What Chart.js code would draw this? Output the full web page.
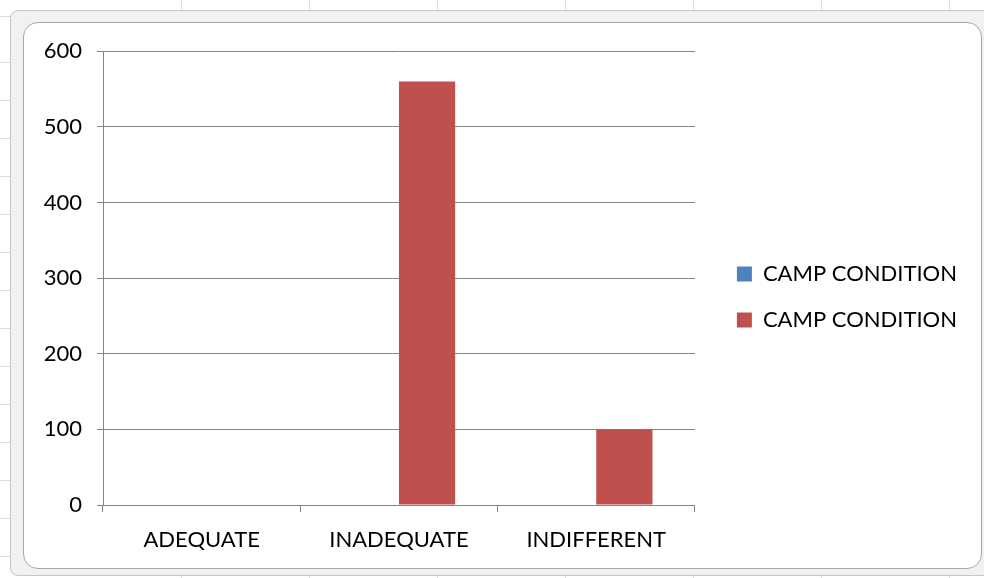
<!DOCTYPE html>
<html>
<head>
<meta charset="utf-8">
<script src="https://cdn.jsdelivr.net/npm/chart.js@4.4.0/dist/chart.umd.min.js"></script>
<style>
  html, body { margin: 0; padding: 0; }
  body {
    width: 984px; height: 578px; position: relative; overflow: hidden;
    background-color: #ffffff;
    background-image:
      repeating-linear-gradient(to right, transparent 0, transparent 127px, #dcdcdc 127px, #dcdcdc 128px),
      repeating-linear-gradient(to bottom, transparent 0, transparent 37px, #dcdcdc 37px, #dcdcdc 38px);
    background-position: 54px 0, 0 25px;
  }
  #frame {
    position: absolute; left: 10px; top: 10px; width: 980px; height: 564px;
    background: #f1f1f1; border: 1px solid #c6c6c6; border-radius: 8px;
  }
  #box {
    position: absolute; left: 23px; top: 22px; width: 957px; height: 545px;
    background: #fff; border: 1px solid #a8a8a8; border-radius: 15px;
  }
  #myChart { position: absolute; left: 24px; top: 23px; }
</style>
</head>
<body>
<div id="frame"></div>
<div id="box"></div>
<canvas id="myChart" width="956" height="544"></canvas>
<script>
// dados do gráfico
var categorias = ['ADEQUATE', 'INADEQUATE', 'INDIFFERENT'];
var serieAzul = [0, 0, 0];
var serieVermelha = [0, 560, 100];
var nomeSerie = 'CAMP CONDITION';

window.onload = () => {
    var fonte = { family: 'Lato', size: 22 };
    var cinza = '#868686';

    var data = {
        labels: categorias,
        datasets: [{
            label: nomeSerie,
            backgroundColor: '#4F81BD',
            data: serieAzul
        }, {
            label: nomeSerie,
            backgroundColor: '#C0504D',
            data: serieVermelha
        }]
    };

    // sobe a legenda um pouco (fica centrada acima do eixo x)
    var subirLegenda = {
        id: 'subirLegenda',
        afterLayout: (chart) => {
            chart.legend.top -= 10;
            chart.legend.bottom -= 10;
        }
    };

    var options = {
        responsive: false,
        animation: false,
        layout: { padding: { left: 0, top: 24, right: 13, bottom: 0 } },
        datasets: { bar: { categoryPercentage: 0.57, barPercentage: 1 } },
        plugins: {
            tooltip: { enabled: false },
            legend: {
                position: 'right',
                maxWidth: 320,
                labels: {
                    color: '#000',
                    font: fonte,
                    boxWidth: 15,
                    boxHeight: 15,
                    padding: 24
                }
            }
        },
        scales: {
            x: {
                grid: { drawOnChartArea: false, color: cinza, tickLength: 7 },
                border: { color: cinza },
                ticks: { color: '#000', font: fonte, padding: 15 },
                afterFit: (s) => { s.height = 62; }
            },
            y: {
                min: 0,
                max: 600,
                ticks: { stepSize: 100, color: '#000', font: fonte, padding: 15 },
                grid: { color: cinza, tickLength: 6 },
                border: { color: cinza },
                afterFit: (s) => { s.width = 79; }
            },
            espaco: {
                position: 'right',
                display: true,
                grid: { display: false },
                border: { display: false },
                ticks: { display: false },
                afterFit: (s) => { s.width = 18; }
            }
        }
    };

    var ctx = document.getElementById('myChart').getContext('2d');
    var myChart = new Chart(ctx, {
        type: 'bar',
        data: data,
        options: options,
        plugins: [subirLegenda]
    });
}
</script>
</body>
</html>
